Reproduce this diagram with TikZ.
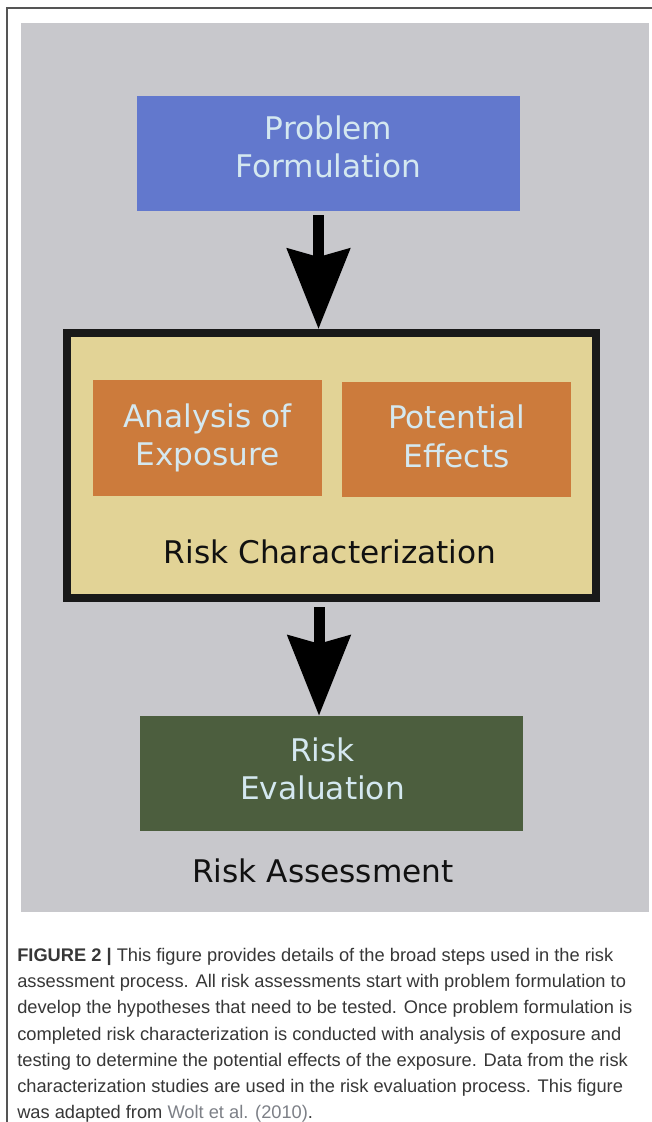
\documentclass[tikz,border=0pt]{standalone}
\usepackage{fontspec}
\usepackage{tikz}
\usetikzlibrary{positioning,arrows.meta}
\newfontfamily\boxfont{DejaVu Sans}
\newfontfamily\capfont{Liberation Sans}
\definecolor{colorwhite}     {RGB}{255,255,255}
\definecolor{colorframe}     {RGB}{ 85, 85, 85}
\definecolor{colorback}      {RGB}{200,200,204}
\definecolor{colorproblem}   {RGB}{ 98,120,205}
\definecolor{colorrisk}      {RGB}{226,211,150}
\definecolor{colorborder}    {RGB}{ 25, 25, 25}
\definecolor{colorstudy}     {RGB}{204,123, 60}
\definecolor{colorevaluation}{RGB}{ 76, 94, 62}
\definecolor{colorlight}     {RGB}{212,232,240}
\definecolor{colortext}      {RGB}{ 17, 17, 17}
\definecolor{colorcaption}   {RGB}{ 55, 55, 55}
\definecolor{colorcite}      {RGB}{125,128,135}

\begin{document}
\begin{tikzpicture}[
    x=0.75pt, y=-0.75pt,
    boxtext/.style={text=colorlight,font={\boxfont\fontsize{23.4}{29}\selectfont},align=center,inner sep=0pt},
    title/.style={text=colortext,font={\boxfont\fontsize{23.4}{29}\selectfont},inner sep=0pt},
    problem/.style={boxtext,fill=colorproblem,minimum width=287.25pt,minimum height=86.25pt},
    study/.style={boxtext,fill=colorstudy,minimum width=171.75pt,minimum height=86.6pt},
    evaluation/.style={boxtext,fill=colorevaluation,minimum width=287.25pt,minimum height=86.25pt},
    risk/.style={draw=colorborder,fill=colorrisk,line width=6pt,minimum width=396.75pt,minimum height=198.75pt},
    bigarrow/.style={black,line width=8.25pt,-{Stealth[length=60pt,width=46.5pt,inset=6pt]}},
    caption/.style={text=colorcaption,font={\capfont\fontsize{13.7}{19.65}\selectfont},align=left,inner sep=0pt},
]
    \useasboundingbox[fill=colorwhite] (0,0) rectangle (652,1122);

    % Frame
    \draw[colorframe,line width=1.1pt] (652,8) -- (7,8) -- (7,1122);

    % Background
    \fill[colorback] (21,23) rectangle (649,912);

    % Problem Formulation
    \node[problem,label={[boxtext,yshift=4.9pt]center:{Problem\\Formulation}}] at (328.5,153.5) (problem) {};

    % Risk Characterization
    \node[risk] at (331.5,465.5) (risk) {};
    \node[study] at (207.5,438) (exposure) {Analysis of\\Exposure};
    \node[study,label={[boxtext,yshift=2.25pt]center:{Potential\\Effects}}] at (456.5,439.5) (effects) {};
    \node[title,anchor=base] at (330,563) (characterization) {Risk Characterization};

    % Risk Evaluation
    \node[evaluation,label={[boxtext,xshift=-6.75pt,yshift=3.4pt]center:{Risk\\Evaluation}}] at (331.5,773.5) (evaluation) {};
    \node[title,anchor=base] at (323,882) (assessment) {Risk Assessment};

    % Arrows
    \draw[bigarrow,shorten <=3pt] ([xshift=-7.5pt]problem.south) -- ([xshift=-9.75pt]risk.north); % problem to risk
    \draw[bigarrow,shorten <=3.75pt] ([xshift=-9.375pt]risk.south) -- ([xshift=-9.375pt]evaluation.north); % risk to evaluation

    % Caption
    \node[caption,anchor=north west] at (17,948) (legend) {%
    \textbf{FIGURE 2 |} This figure provides details of the broad steps used in the risk\\
    assessment process. All risk assessments start with problem formulation to\\
    develop the hypotheses that need to be tested. Once problem formulation is\\
    completed risk characterization is conducted with analysis of exposure and\\
    testing to determine the potential effects of the exposure. Data from the risk\\
    characterization studies are used in the risk evaluation process. This figure\\
    was adapted from \textcolor{colorcite}{Wolt et al. (2010)}.};

\end{tikzpicture}
\end{document}
